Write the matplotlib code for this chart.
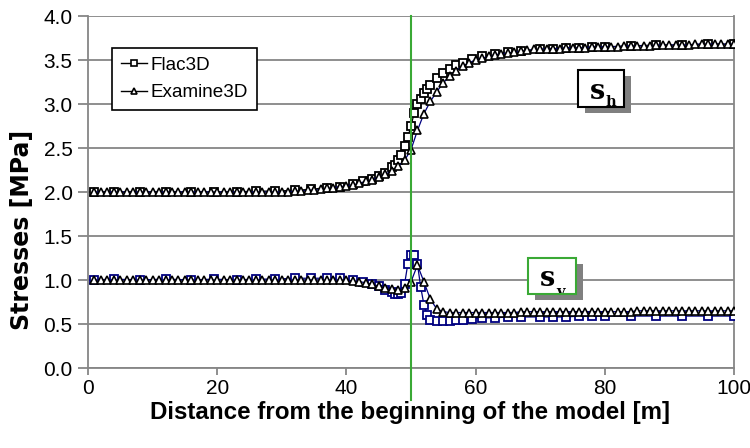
import matplotlib
matplotlib.use("Agg")
import matplotlib.pyplot as plt
from matplotlib.lines import Line2D
from matplotlib.patches import Rectangle
from matplotlib.transforms import Bbox

plt.rcParams['font.family'] = ['Liberation Sans', 'DejaVu Sans']

# ---------------- data ----------------
# Examine3D: every metre
x_exam = list(range(1, 101))
sh_exam = ([2.00] * 31 +
           [2.01, 2.01, 2.02, 2.02, 2.03, 2.04, 2.05, 2.06, 2.07, 2.08, 2.10, 2.12, 2.14,
            2.17, 2.20, 2.24, 2.29, 2.36, 2.48, 2.70, 2.89, 3.03, 3.14, 3.24, 3.32, 3.38,
            3.43, 3.47, 3.50, 3.52, 3.54, 3.56, 3.57, 3.58, 3.59, 3.60, 3.61, 3.62, 3.62,
            3.63, 3.63, 3.63, 3.64, 3.64, 3.64, 3.64, 3.65, 3.65, 3.65, 3.65, 3.65, 3.66,
            3.66, 3.66, 3.66, 3.66, 3.67, 3.67, 3.67, 3.67, 3.67, 3.67, 3.68, 3.68, 3.68,
            3.68, 3.68, 3.68, 3.68])
sv_exam = ([1.00] * 40 +
           [0.99, 0.98, 0.97, 0.95, 0.93, 0.91, 0.90, 0.89, 0.91, 0.98, 1.17, 0.98, 0.78,
            0.67, 0.64, 0.63, 0.63, 0.63, 0.63, 0.63, 0.63, 0.63, 0.63, 0.63, 0.63, 0.63,
            0.64, 0.64, 0.64, 0.64, 0.64, 0.64, 0.64, 0.64, 0.64, 0.64, 0.64, 0.64, 0.64,
            0.64, 0.64, 0.64, 0.64, 0.64, 0.65, 0.65, 0.65, 0.65, 0.65, 0.65, 0.65, 0.65,
            0.65, 0.65, 0.65, 0.65, 0.65, 0.65, 0.65, 0.65])

# Flac3D: non-uniform mesh, denser near the centre
x_flac = [1, 4, 8, 12, 16, 19.5, 23, 26, 29, 32, 34.5, 37, 39, 41, 42.5, 44, 45, 46, 47,
          47.5, 48, 48.5, 49, 49.5, 50, 50.5, 51, 51.5, 52, 52.5, 53, 54, 55, 56, 57, 58,
          59.5, 61, 63, 65, 67, 70, 72, 74, 76, 78, 80, 84, 88, 92, 96, 100]
sh_flac = [2.00, 2.00, 2.00, 2.00, 2.00, 2.00, 2.00, 2.01, 2.01, 2.02, 2.03, 2.05, 2.06,
           2.09, 2.12, 2.15, 2.18, 2.22, 2.28, 2.31, 2.36, 2.42, 2.52, 2.62, 2.75, 2.90,
           3.00, 3.06, 3.12, 3.17, 3.22, 3.29, 3.35, 3.40, 3.44, 3.47, 3.51, 3.54, 3.57,
           3.59, 3.60, 3.62, 3.63, 3.64, 3.64, 3.65, 3.65, 3.66, 3.67, 3.67, 3.68, 3.68]
sv_flac = [1.00, 1.01, 1.00, 1.01, 1.00, 1.01, 1.00, 1.01, 1.01, 1.02, 1.02, 1.02, 1.02,
           1.00, 0.98, 0.96, 0.93, 0.89, 0.86, 0.84, 0.84, 0.85, 0.95, 1.18, 1.28, 1.28,
           1.18, 0.92, 0.72, 0.60, 0.54, 0.53, 0.53, 0.53, 0.54, 0.55, 0.56, 0.57, 0.57,
           0.58, 0.58, 0.58, 0.58, 0.58, 0.59, 0.59, 0.59, 0.59, 0.59, 0.59, 0.59, 0.59]

x_ticks = [0, 20, 40, 60, 80, 100]
y_ticks = [0.0, 0.5, 1.0, 1.5, 2.0, 2.5, 3.0, 3.5, 4.0]
legend_labels = ["Flac3D", "Examine3D"]
x_label = "Distance from the beginning of the model [m]"
y_label = "Stresses [MPa]"

# ---------------- figure ----------------
W, H = 750, 448
fig = plt.figure(figsize=(7.5, 4.48), dpi=100)
ax = fig.add_axes([88 / W, 1 - 368 / H, 646 / W, 352 / H])

grey = '#868686'
navy = '#000080'
green = '#3aa935'

ax.set_xlim(0, 100)
ax.set_ylim(0, 4.0)
ax.set_xticks(x_ticks)
ax.set_xticklabels([str(v) for v in x_ticks], fontsize=15)
ax.set_yticks(y_ticks)
ax.set_yticklabels([f"{v:.1f}" for v in y_ticks], fontsize=15)
ax.yaxis.grid(True, color=grey, linewidth=1.3)
ax.set_axisbelow(True)
for s in ax.spines.values():
    s.set_color(grey)
    s.set_linewidth(1.3)
ax.spines['top'].set_visible(False)
ax.tick_params(axis='both', colors=grey, width=1.3, direction='out', labelcolor='black')
ax.tick_params(axis='x', length=5, pad=3)
ax.tick_params(axis='y', length=7, pad=4)

# vertical green line at centre
ax.axvline(50, ymin=-32 / 352, ymax=1, color=green, linewidth=1.5, clip_on=False, zorder=5)

ms = 5.5
# sh
ax.plot(x_flac, sh_flac, color='black', linewidth=0.9, marker='s', markersize=ms,
        markerfacecolor='white', markeredgecolor='black', markeredgewidth=1.3, zorder=3)
ax.plot(x_exam, sh_exam, color=navy, linewidth=0.9, marker='^', markersize=ms,
        markerfacecolor='white', markeredgecolor='black', markeredgewidth=1.2, zorder=4)
# sv
ax.plot(x_flac, sv_flac, color=navy, linewidth=0.9, marker='s', markersize=ms,
        markerfacecolor='white', markeredgecolor=navy, markeredgewidth=1.3, zorder=3)
ax.plot(x_exam, sv_exam, color=navy, linewidth=0.9, marker='^', markersize=ms,
        markerfacecolor='white', markeredgecolor='black', markeredgewidth=1.2, zorder=4)

handles = [Line2D([], [], color='black', linewidth=1, marker='s', markersize=5,
                  markerfacecolor='white', markeredgecolor='black', markeredgewidth=1.2),
           Line2D([], [], color='black', linewidth=1, marker='^', markersize=5,
                  markerfacecolor='white', markeredgecolor='black', markeredgewidth=1.2)]
leg = ax.legend(handles, legend_labels, loc='upper left',
                bbox_to_anchor=((112 - 88) / 646, (368 - 48) / 352), borderaxespad=0,
                fancybox=False, framealpha=1, edgecolor='black', fontsize=13.6,
                handlelength=1.4, handletextpad=0.2, borderpad=0.45, labelspacing=0.55,
                markerscale=1.0)
leg.get_frame().set_linewidth(1.2)
leg.set_zorder(6)

# ---- boxed labels with shadow (pixel coordinates of the figure) ----
def px_rect(x0, y0, x1, y1, **kw):
    r = Rectangle((x0 / W, 1 - y1 / H), (x1 - x0) / W, (y1 - y0) / H,
                  transform=fig.transFigure, **kw)
    fig.add_artist(r)
    return r

serif = ['DejaVu Serif']

def boxed(x0, y0, x1, y1, edge, main, sub, base_dy, sub_dy):
    px_rect(x0 + 7, y0 + 6, x1 + 7, y1 + 6, facecolor='#808080', edgecolor='none', zorder=7)
    px_rect(x0, y0, x1, y1, facecolor='white', edgecolor=edge, linewidth=1.5, zorder=8)
    cx = x0 + 12
    fig.text(cx / W, 1 - (y0 + base_dy) / H, main, fontsize=19.5, fontweight='bold',
             family=serif, ha='left', va='baseline', zorder=9)
    t = fig.text((cx + 16) / W, 1 - (y0 + base_dy + sub_dy) / H, sub,
                 fontsize=10.5, fontweight='bold', family=serif,
                 ha='left', va='baseline', zorder=9)
    t.set_clip_box(Bbox([[x0, H - y1 + 1], [x1, H - y0]]))
    t.set_clip_on(True)

boxed(578, 70, 624, 107, 'black', 's', 'h', 29, 7)
boxed(528, 258, 576, 294, green, 's', 'v', 28, 10)

# axis titles
fig.text(410 / W, 1 - 412 / H, x_label, fontsize=17.4, fontweight='bold',
         ha='center', va='center')
fig.text(22 / W, 1 - 330 / H, y_label, rotation=90, rotation_mode='anchor',
         fontsize=17, fontweight='bold', family=['DejaVu Sans'],
         ha='left', va='center')

fig.savefig('out.png', dpi=100)
